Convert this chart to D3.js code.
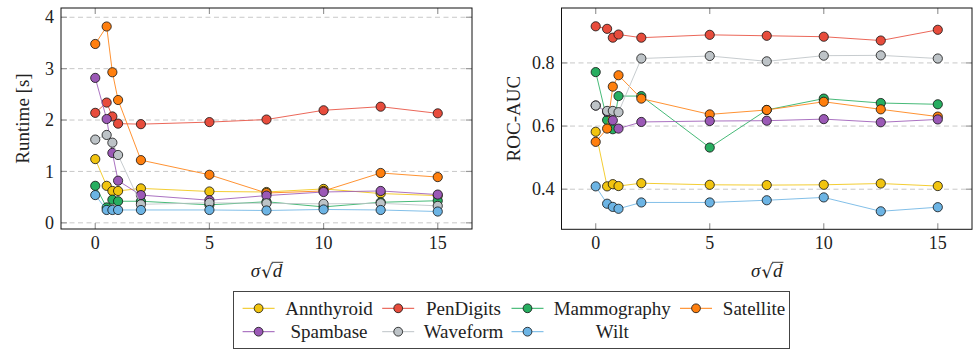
<!DOCTYPE html>
<html><head><meta charset="utf-8">
<script src="https://cdn.jsdelivr.net/npm/d3@7"></script>
<style>html,body{margin:0;padding:0;background:#fff;}svg{display:block;}</style>
</head><body>
<svg id="chart" width="974" height="350"></svg>
<script>
const sigma = [0, 0.5, 0.75, 1, 2, 5, 7.5, 10, 12.5, 15];
const datasets = ["Annthyroid","PenDigits","Mammography","Satellite","Spambase","Waveform","Wilt"];
const colors = ["#f1c40f","#e74c3c","#27ae60","#ff7f0e","#9b59b6","#bdc3c7","#6cb4e4"];

const annthyroidRuntime  = [1.24, 0.72, 0.62, 0.62, 0.67, 0.61, 0.60, 0.66, 0.57, 0.53];
const penDigitsRuntime   = [2.14, 2.34, 2.07, 1.93, 1.92, 1.96, 2.01, 2.19, 2.26, 2.13];
const mammographyRuntime = [0.72, 0.30, 0.45, 0.42, 0.42, 0.35, 0.41, 0.31, 0.40, 0.43];
const satelliteRuntime   = [3.48, 3.82, 2.93, 2.39, 1.22, 0.935, 0.58, 0.62, 0.97, 0.89];
const spambaseRuntime    = [2.82, 2.02, 1.36, 0.82, 0.54, 0.44, 0.53, 0.60, 0.62, 0.55];
const waveformRuntime    = [1.62, 1.71, 1.56, 1.32, 0.36, 0.39, 0.38, 0.37, 0.38, 0.33];
const wiltRuntime        = [0.54, 0.25, 0.25, 0.25, 0.25, 0.25, 0.24, 0.26, 0.25, 0.22];

const annthyroidAUC  = [0.582, 0.409, 0.416, 0.410, 0.419, 0.414, 0.413, 0.414, 0.418, 0.410];
const penDigitsAUC   = [0.916, 0.908, 0.880, 0.890, 0.880, 0.889, 0.886, 0.883, 0.871, 0.905];
const mammographyAUC = [0.771, 0.619, 0.590, 0.695, 0.695, 0.532, 0.651, 0.687, 0.673, 0.669];
const satelliteAUC   = [0.550, 0.592, 0.725, 0.761, 0.687, 0.637, 0.651, 0.677, 0.653, 0.630];
const spambaseAUC    = [0.665, 0.645, 0.618, 0.592, 0.613, 0.616, 0.617, 0.622, 0.612, 0.621];
const waveformAUC    = [0.665, 0.648, 0.648, 0.644, 0.814, 0.822, 0.805, 0.823, 0.824, 0.814];
const wiltAUC        = [0.409, 0.354, 0.344, 0.338, 0.358, 0.358, 0.365, 0.374, 0.330, 0.343];

const xTicks = [0, 5, 10, 15];
const runtimeTicks = [0, 1, 2, 3, 4];
const aucTicks = [0.4, 0.6, 0.8];

const runtimeSeries = [annthyroidRuntime, penDigitsRuntime, mammographyRuntime, satelliteRuntime, spambaseRuntime, waveformRuntime, wiltRuntime];
const aucSeries = [annthyroidAUC, penDigitsAUC, mammographyAUC, satelliteAUC, spambaseAUC, waveformAUC, wiltAUC];

const svg = d3.select("#chart");
const FONT = "'Liberation Serif', serif";

function panel(opts) {
  const {x0, x1, y0, y1, xDomain, yDomain, yTicks, yFormat, series, yLabel, yLabelX} = opts;
  const x = d3.scaleLinear().domain(xDomain).range([x0, x1]);
  const y = d3.scaleLinear().domain(yDomain).range([y1, y0]);
  const g = svg.append("g");
  g.selectAll(".grid").data(yTicks).enter().append("line")
    .attr("x1", x0).attr("x2", x1)
    .attr("y1", d => y(d)).attr("y2", d => y(d))
    .attr("stroke", "#c8c8c8").attr("stroke-width", 1).attr("stroke-dasharray", "5,3.5");
  const tl = 6;
  yTicks.forEach(t => {
    g.append("line").attr("x1", x0).attr("x2", x0 + tl).attr("y1", y(t)).attr("y2", y(t)).attr("stroke", "#999").attr("stroke-width", 1.2);
    g.append("line").attr("x1", x1).attr("x2", x1 - tl).attr("y1", y(t)).attr("y2", y(t)).attr("stroke", "#999").attr("stroke-width", 1.2);
  });
  xTicks.forEach(t => {
    g.append("line").attr("x1", x(t)).attr("x2", x(t)).attr("y1", y1).attr("y2", y1 - tl).attr("stroke", "#999").attr("stroke-width", 1.2);
    g.append("line").attr("x1", x(t)).attr("x2", x(t)).attr("y1", y0).attr("y2", y0 + tl).attr("stroke", "#999").attr("stroke-width", 1.2);
  });
  g.selectAll(".yl").data(yTicks).enter().append("text")
    .attr("x", x0 - 7).attr("y", d => y(d)).attr("dy", "0.34em")
    .attr("text-anchor", "end").attr("font-family", FONT).attr("font-size", 18).attr("fill", "#222")
    .text(yFormat);
  g.selectAll(".xl").data(xTicks).enter().append("text")
    .attr("x", d => x(d)).attr("y", y1 + 20)
    .attr("text-anchor", "middle").attr("font-family", FONT).attr("font-size", 18).attr("fill", "#222")
    .text(d => d);
  const line = d3.line().x((d, i) => x(sigma[i])).y(d => y(d));
  series.forEach((s, k) => {
    g.append("path").attr("d", line(s)).attr("fill", "none")
      .attr("stroke", colors[k]).attr("stroke-width", 1).attr("stroke-opacity", 0.85);
    g.selectAll(null).data(s).enter().append("circle")
      .attr("cx", (d, i) => x(sigma[i])).attr("cy", d => y(d)).attr("r", 4.6)
      .attr("fill", colors[k]).attr("stroke", "#111").attr("stroke-width", 0.8);
  });
  g.append("rect").attr("x", x0).attr("y", y0).attr("width", x1 - x0).attr("height", y1 - y0)
    .attr("fill", "none").attr("stroke", "#111").attr("stroke-width", 1);
  g.append("text").attr("transform", `translate(${yLabelX},${(y0 + y1) / 2}) rotate(-90)`)
    .attr("text-anchor", "middle").attr("dy", "0.35em").attr("font-family", FONT).attr("font-size", 19).attr("fill", "#222")
    .text(yLabel);
  // x label: sigma sqrt(d)
  const lab = g.append("g");
  const ly = 277;
  const t1 = lab.append("text").attr("font-family", FONT).attr("font-size", 19).attr("font-style", "italic").attr("fill", "#222").attr("y", ly).text("σ");
  const t2 = lab.append("text").attr("font-family", "'DejaVu Serif', serif").attr("font-size", 18).attr("fill", "#222").attr("y", ly + 1).text("√");
  const t3 = lab.append("text").attr("font-family", FONT).attr("font-size", 19).attr("font-style", "italic").attr("fill", "#222").attr("y", ly).text("d");
  const w1 = t1.node().getComputedTextLength(), w2 = t2.node().getComputedTextLength(), w3 = t3.node().getComputedTextLength();
  const tot = w1 + 1 + w2 + w3;
  const mid = (x0 + x1) / 2;
  const sx = mid - tot / 2;
  t1.attr("x", sx);
  t2.attr("x", sx + w1 + 1);
  t3.attr("x", sx + w1 + 1 + w2);
  const bb = t2.node().getBBox();
  lab.append("line").attr("x1", sx + w1 + 1 + w2 - 1).attr("x2", sx + tot + 1)
    .attr("y1", bb.y + 1.3).attr("y2", bb.y + 1.3).attr("stroke", "#222").attr("stroke-width", 0.9);
}

panel({x0: 61, x1: 472, y0: 8, y1: 229, xDomain: [-1.5, 16.5], yDomain: [-0.12, 4.18],
  yTicks: runtimeTicks, yFormat: d => d, series: runtimeSeries, yLabel: "Runtime [s]", yLabelX: 22});
panel({x0: 561.5, x1: 972, y0: 8, y1: 229.3, xDomain: [-1.5, 16.5], yDomain: [0.273, 0.974],
  yTicks: aucTicks, yFormat: d => d.toFixed(1), series: aucSeries, yLabel: "ROC-AUC", yLabelX: 513});

// legend
const lg = svg.append("g");
lg.append("rect").attr("x", 233.5).attr("y", 291.5).attr("width", 556).attr("height", 57)
  .attr("fill", "#fff").attr("stroke", "#444").attr("stroke-width", 1);
const markerX = [258.6, 398.2, 527.5, 696];
const textCX = [329, 463.5, 612.3, 754];
const rowY = [308.3, 331.7];
datasets.forEach((name, k) => {
  const col = k % 4, row = Math.floor(k / 4);
  const mx = markerX[col], yy = rowY[row];
  lg.append("line").attr("x1", mx - 16).attr("x2", mx + 16).attr("y1", yy).attr("y2", yy)
    .attr("stroke", colors[k]).attr("stroke-width", 1);
  lg.append("circle").attr("cx", mx).attr("cy", yy).attr("r", 4.4)
    .attr("fill", colors[k]).attr("stroke", "#111").attr("stroke-width", 0.8);
  lg.append("text").attr("x", textCX[col]).attr("y", yy).attr("dy", "0.33em")
    .attr("text-anchor", "middle").attr("font-family", FONT).attr("font-size", 19).attr("fill", "#222")
    .text(name);
});
</script>
</body></html>
